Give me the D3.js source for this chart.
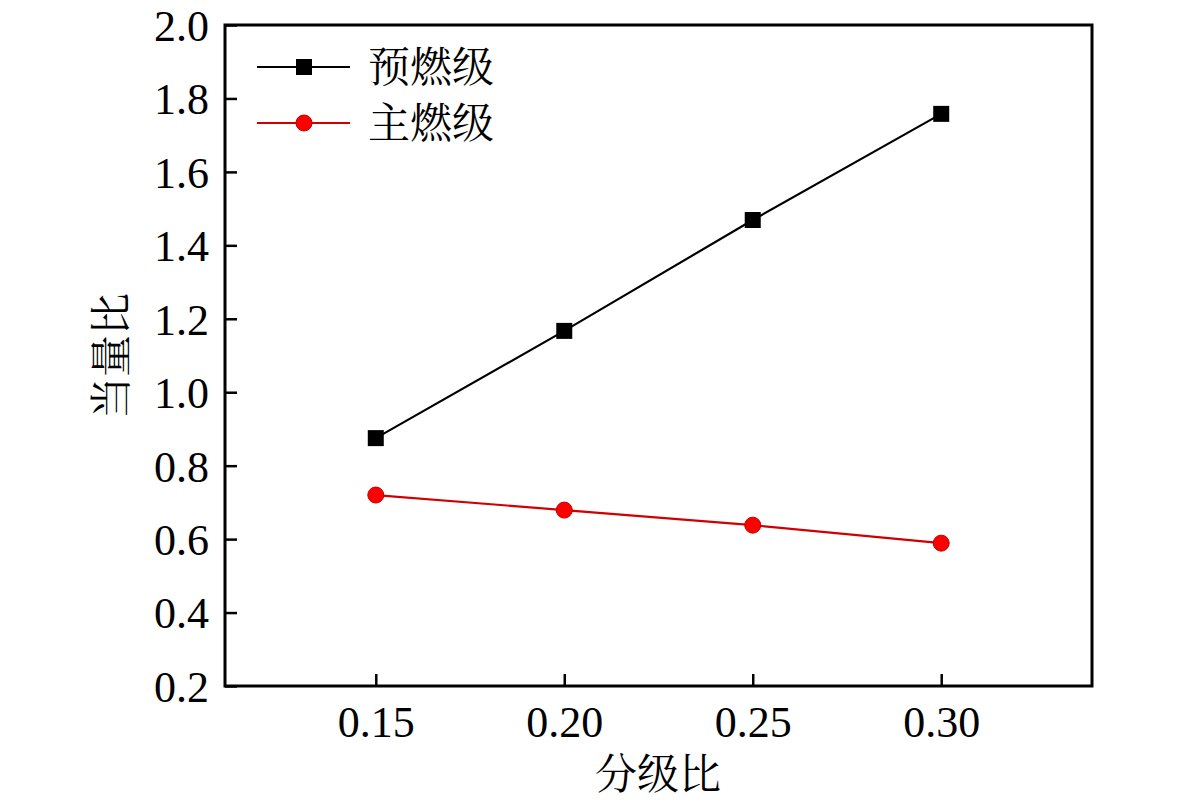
<!DOCTYPE html>
<html>
<head>
<meta charset="utf-8">
<script src="https://cdn.jsdelivr.net/npm/d3@7"></script>
<style>
  body { margin: 0; background: #fff; }
  text { fill: #000; }
</style>
</head>
<body>
<div id="chart"></div>
<script>
const width = 1181, height = 806;

// data
const splitRatio = [0.15, 0.20, 0.25, 0.30];
const preStage = [0.875, 1.167, 1.469, 1.758];   // 预燃级
const mainStage = [0.720, 0.679, 0.638, 0.589];  // 主燃级
const xTicks = [0.15, 0.20, 0.25, 0.30];
const yTicks = [0.2, 0.4, 0.6, 0.8, 1.0, 1.2, 1.4, 1.6, 1.8, 2.0];
const seriesNames = ["预燃级", "主燃级"];

const margin = { top: 25, right: 89, bottom: 120, left: 225 };
const numFont = "'Liberation Serif', 'Times New Roman', serif";
const cjkFont = "'Noto Serif CJK SC', 'Noto Sans CJK SC', serif";

const svg = d3.select("#chart").append("svg")
    .attr("width", width)
    .attr("height", height);

const x = d3.scaleLinear()
    .domain([0.11, 0.34])
    .range([margin.left, width - margin.right]);

const y = d3.scaleLinear()
    .domain([0.2, 2.0])
    .range([height - margin.bottom, margin.top]);

// ticks pointing inward
const xAxis = svg.append("g")
    .attr("transform", `translate(0,${height - margin.bottom})`)
    .call(d3.axisBottom(x).tickValues(xTicks).tickFormat(d3.format(".2f"))
        .tickSizeInner(-12).tickSizeOuter(0).tickPadding(20));

const yAxis = svg.append("g")
    .attr("transform", `translate(${margin.left},0)`)
    .call(d3.axisLeft(y).tickValues(yTicks).tickFormat(d3.format(".1f"))
        .tickSizeInner(-12).tickSizeOuter(0).tickPadding(16));

[xAxis, yAxis].forEach(g => {
    g.select(".domain").remove();
    g.selectAll(".tick line").attr("stroke", "#000").attr("stroke-width", 2.5);
    g.selectAll(".tick text")
        .attr("font-family", numFont)
        .attr("font-size", 44)
        .attr("fill", "#000");
});
yAxis.selectAll(".tick text").attr("dy", "0.35em");

// frame
svg.append("rect")
    .attr("x", margin.left)
    .attr("y", margin.top)
    .attr("width", width - margin.left - margin.right)
    .attr("height", height - margin.top - margin.bottom)
    .attr("fill", "none")
    .attr("stroke", "#000")
    .attr("stroke-width", 3);

const line = d3.line()
    .x((d, i) => x(splitRatio[i]))
    .y(d => y(d));

// 预燃级: black line, square markers
svg.append("path")
    .datum(preStage)
    .attr("d", line)
    .attr("fill", "none")
    .attr("stroke", "#000")
    .attr("stroke-width", 2.2);

svg.selectAll(".sq")
    .data(preStage)
    .enter().append("rect")
    .attr("class", "sq")
    .attr("x", (d, i) => x(splitRatio[i]) - 8)
    .attr("y", d => y(d) - 8)
    .attr("width", 16)
    .attr("height", 16)
    .attr("fill", "#000");

// 主燃级: red line, circle markers
svg.append("path")
    .datum(mainStage)
    .attr("d", line)
    .attr("fill", "none")
    .attr("stroke", "#d00000")
    .attr("stroke-width", 2.2);

svg.selectAll(".dot")
    .data(mainStage)
    .enter().append("circle")
    .attr("class", "dot")
    .attr("cx", (d, i) => x(splitRatio[i]))
    .attr("cy", d => y(d))
    .attr("r", 8)
    .attr("fill", "#ff0000")
    .attr("stroke", "#c00000")
    .attr("stroke-width", 1);

// legend
const legend = svg.append("g");
const legendY = [67, 123];

seriesNames.forEach((name, i) => {
    const ly = legendY[i];
    legend.append("line")
        .attr("x1", 257).attr("x2", 350)
        .attr("y1", ly).attr("y2", ly)
        .attr("stroke", i === 0 ? "#000" : "#d00000")
        .attr("stroke-width", 2.2);
    if (i === 0) {
        legend.append("rect")
            .attr("x", 296).attr("y", ly - 8)
            .attr("width", 16).attr("height", 16)
            .attr("fill", "#000");
    } else {
        legend.append("circle")
            .attr("cx", 304).attr("cy", ly).attr("r", 8)
            .attr("fill", "#ff0000")
            .attr("stroke", "#c00000");
    }
    legend.append("text")
        .attr("x", 368)
        .attr("y", ly)
        .attr("dy", "0.36em")
        .attr("font-family", cjkFont)
        .attr("font-size", 42)
        .text(name);
});

// axis titles
svg.append("text")
    .attr("x", 658)
    .attr("y", 789)
    .attr("text-anchor", "middle")
    .attr("font-family", cjkFont)
    .attr("font-size", 42)
    .text("分级比");

svg.append("text")
    .attr("transform", "translate(126,356) rotate(-90)")
    .attr("text-anchor", "middle")
    .attr("font-family", cjkFont)
    .attr("font-size", 42)
    .attr("fill", "#000")
    .text("当量比");
</script>
</body>
</html>
